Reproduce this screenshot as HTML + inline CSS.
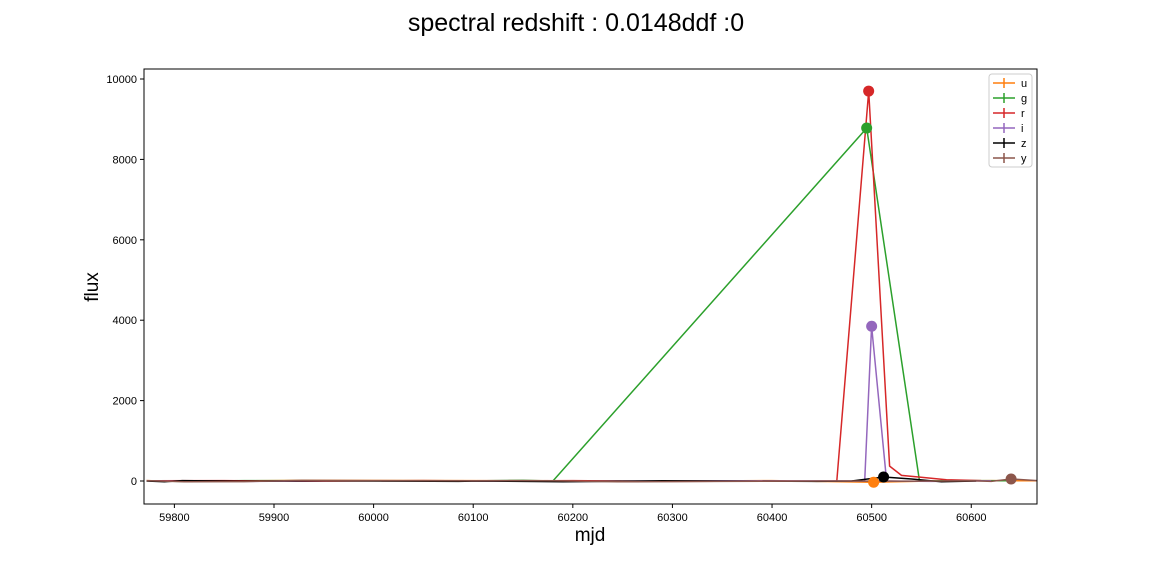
<!DOCTYPE html>
<html><head><meta charset="utf-8"><style>
body{margin:0;background:#fff;font-family:"Liberation Sans",sans-serif}
</style></head><body>
<svg id="chart" width="1152" height="576" xmlns="http://www.w3.org/2000/svg" font-family="Liberation Sans, sans-serif">
<rect width="1152" height="576" fill="#fff"/>
<text x="576" y="31" text-anchor="middle" font-size="25">spectral redshift : 0.0148ddf :0</text>
<text x="590" y="541" text-anchor="middle" font-size="19">mjd</text>
<text transform="translate(98,287) rotate(-90)" text-anchor="middle" font-size="19">flux</text>
<g id="axes"></g>
<g id="plot"></g>
<rect x="144" y="69" width="893" height="435" fill="none" stroke="#000" stroke-width="1"/>
<g id="legend"></g>
</svg>
<script>
const xTicks=[59800,59900,60000,60100,60200,60300,60400,60500,60600];
const yTicks=[0,2000,4000,6000,8000,10000];
const bands=['u','g','r','i','z','y'];
const colors=['#ff7f0e','#2ca02c','#d62728','#9467bd','#000000','#8c564b'];
const uX=[59772,59800,59870,59930,60100,60180,60250,60400,60502,60560,60620,60666];
const uY=[10,-5,5,15,10,5,-10,10,-30,0,10,5];
const gX=[59772,59805,59870,59950,60090,60150,60180,60495,60548,60600,60640];
const gY=[5,-10,10,5,0,15,0,8780,0,10,5];
const rX=[59780,59850,59930,60050,60120,60200,60300,60465,60497,60518,60530,60547,60575,60610];
const rY=[5,10,-5,10,0,10,-10,0,9700,370,140,100,30,10];
const iX=[59775,59870,59960,60100,60200,60350,60493,60500,60515,60560,60620];
const iY=[0,-10,5,0,-10,5,0,3850,0,-10,5];
const zX=[59772,59790,59808,59870,59950,60085,60105,60190,60290,60445,60480,60512,60540,60570,60605];
const zY=[0,-20,10,-5,5,-10,0,-20,5,-10,0,100,50,-20,0];
const yyX=[59772,59810,59870,59928,60000,60100,60150,60180,60245,60350,60450,60530,60600,60620,60640,60666];
const yyY=[10,-20,-15,15,10,5,10,5,-20,-10,0,-5,5,-10,50,10];
const seriesX=[uX,gX,rX,iX,zX,yyX];
const seriesY=[uY,gY,rY,iY,zY,yyY];
const markerX=[60502,60495,60497,60500,60512,60640];
const markerY=[-30,8780,9700,3850,100,50];
const NS='http://www.w3.org/2000/svg';
const X0=144,X1=1037,Y0=504,Y1=69;
const xMin=59769.5,xMax=60666,yMin=-572,yMax=10249;
function sx(v){return X0+(v-xMin)/(xMax-xMin)*(X1-X0);}
function sy(v){return Y0-(v-yMin)/(yMax-yMin)*(Y0-Y1);}
function mk(t,a,p){const e=document.createElementNS(NS,t);for(const k in a)e.setAttribute(k,a[k]);p.appendChild(e);return e;}
const axes=document.getElementById('axes');
xTicks.forEach(v=>{const x=sx(v);
 const l=mk('line',{x1:x,x2:x,y1:504,y2:508,stroke:'#000'},axes);
 
 
 const t=mk('text',{x:x,y:521,'text-anchor':'middle','font-size':'11'},axes);t.textContent=v;
 
 });
yTicks.forEach(v=>{const y=sy(v);
 const l=mk('line',{x1:140,x2:144,y1:y,y2:y,stroke:'#000'},axes);
 
 
 const t=mk('text',{x:137,y:y+4,'text-anchor':'end','font-size':'11'},axes);t.textContent=v;
 
 });
const plot=document.getElementById('plot');
bands.forEach((b,i)=>{
 const pts=seriesX[i].map((x,j)=>sx(x).toFixed(1)+','+sy(seriesY[i][j]).toFixed(1)).join(' ');
 const pl=mk('polyline',{points:pts,fill:'none',stroke:colors[i],'stroke-width':'1.5'},plot);
 
 
});
bands.forEach((b,i)=>{
 const c=mk('circle',{cx:sx(markerX[i]),cy:sy(markerY[i]),r:5.5,fill:colors[i]},plot);
 
 
});
const lg=document.getElementById('legend');
const box=mk('rect',{x:989,y:74,width:43,height:93,rx:3,fill:'#fff',stroke:'#ccc'},lg);


bands.forEach((b,i)=>{const y=83+i*15;
 const g=mk('g',{},lg);
 
 
 mk('line',{x1:993,x2:1015,y1:y,y2:y,stroke:colors[i],'stroke-width':'1.5'},g);
 mk('line',{x1:1004,x2:1004,y1:y-5,y2:y+5,stroke:colors[i],'stroke-width':'1.5'},g);
 const t=mk('text',{x:1021,y:y+4,'font-size':'11'},g);t.textContent=b;});
</script>
</body></html>
